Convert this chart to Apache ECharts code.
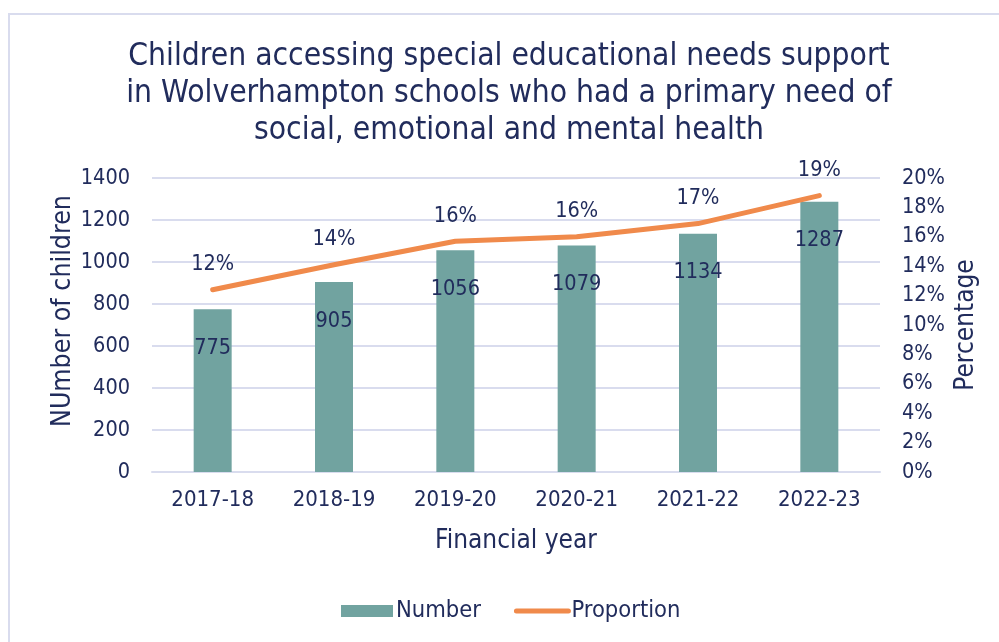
<!DOCTYPE html>
<html>
<head>
<meta charset="utf-8">
<script src="https://cdn.jsdelivr.net/npm/echarts@6/dist/echarts.min.js"></script>
<style>
  html, body { margin: 0; padding: 0; background: #ffffff; }
  #frame { position: absolute; left: 8px; top: 13px; width: 1100px; height: 700px;
           border-left: 2px solid #D9DCEE; border-top: 2px solid #D9DCEE; box-sizing: border-box; }
  #chart { position: absolute; left: 0; top: 0; width: 999px; height: 642px; }
</style>
</head>
<body>
<div id="frame"></div>
<div id="chart"></div>
<script>
// Financial years shown on the category axis
const years = ['2017-18', '2018-19', '2019-20', '2020-21', '2021-22', '2022-23'];
// Children with a primary SEMH need
const numbers = [775, 905, 1056, 1079, 1134, 1287];
// Share of all SEN support pupils with SEMH as primary need
const proportions = [0.124, 0.141, 0.157, 0.160, 0.169, 0.188];

const navy = '#212C5C';
const orange = '#F08A4B';
const teal = '#71A3A0';
const font = 'DejaVu Sans Condensed';

const chart = echarts.init(document.getElementById('chart'), null, { renderer: 'canvas' });
chart.setOption({
  animation: false,
  textStyle: { fontFamily: font, color: navy },
  title: {
    text: 'Children accessing special educational needs support\nin Wolverhampton schools who had a primary need of\nsocial, emotional and mental health',
    left: 504,
    top: 33,
    textAlign: 'center',
    textStyle: { fontFamily: font, fontSize: 31.5, fontWeight: 'normal', color: navy, lineHeight: 37 }
  },
  grid: { left: 152, right: 119, top: 178, bottom: 170 },
  legend: {
    data: [
      { name: 'Number', icon: 'rect' },
      { name: 'Proportion', itemStyle: { opacity: 0 }, lineStyle: { width: 5, cap: 'round', color: orange } }
    ],
    left: 336,
    top: 594,
    itemWidth: 52,
    itemHeight: 12,
    itemGap: 33,
    textStyle: { fontFamily: font, fontSize: 23.5, color: navy, padding: [0, 0, 0, -2] }
  },
  xAxis: {
    type: 'category',
    data: years,
    name: 'Financial year',
    nameLocation: 'middle',
    nameGap: 56,
    nameMoveOverlap: false,
    nameTextStyle: { fontFamily: font, fontSize: 26, color: navy },
    axisLine: { lineStyle: { color: '#D9DCEE', width: 2 } },
    axisTick: { show: false },
    axisLabel: { fontFamily: font, fontSize: 22, color: navy, margin: 17 }
  },
  yAxis: [
    {
      type: 'value',
      min: 0, max: 1400, interval: 200,
      name: 'NUmber of children',
      nameLocation: 'middle',
      nameGap: 75,
      nameMoveOverlap: false,
      nameTextStyle: { fontFamily: font, fontSize: 26.5, color: navy, padding: [0, 0, 0, 28] },
      axisLine: { show: false },
      axisTick: { show: false },
      axisLabel: { fontFamily: font, fontSize: 21.5, color: navy, margin: 22, formatter: v => String(v) },
      splitLine: { lineStyle: { color: '#D9DCEE', width: 2 } }
    },
    {
      type: 'value',
      min: 0, max: 0.2, interval: 0.02,
      name: 'Percentage',
      nameLocation: 'middle',
      nameGap: 73,
      nameMoveOverlap: false,
      nameTextStyle: { fontFamily: font, fontSize: 26, color: navy },
      axisLine: { show: false },
      axisTick: { show: false },
      splitLine: { show: false },
      axisLabel: {
        fontFamily: font, fontSize: 21.5, color: navy, margin: 22,
        formatter: v => Math.round(v * 100) + '%'
      }
    }
  ],
  series: [
    {
      name: 'Number',
      type: 'bar',
      data: numbers,
      barWidth: 38,
      itemStyle: { color: teal },
      label: {
        show: true,
        position: 'insideTop',
        distance: 28,
        fontFamily: font, fontSize: 21.5, color: navy
      }
    },
    {
      name: 'Proportion',
      type: 'line',
      yAxisIndex: 1,
      data: proportions,
      symbol: 'circle',
      symbolSize: 2,
      showSymbol: true,
      lineStyle: { color: orange, width: 5, cap: 'round' },
      itemStyle: { color: orange },
      label: {
        show: true,
        position: 'top',
        distance: 13,
        fontFamily: font, fontSize: 21.5, color: navy,
        formatter: p => Math.round(p.value * 100) + '%'
      }
    }
  ]
});
</script>
</body>
</html>
